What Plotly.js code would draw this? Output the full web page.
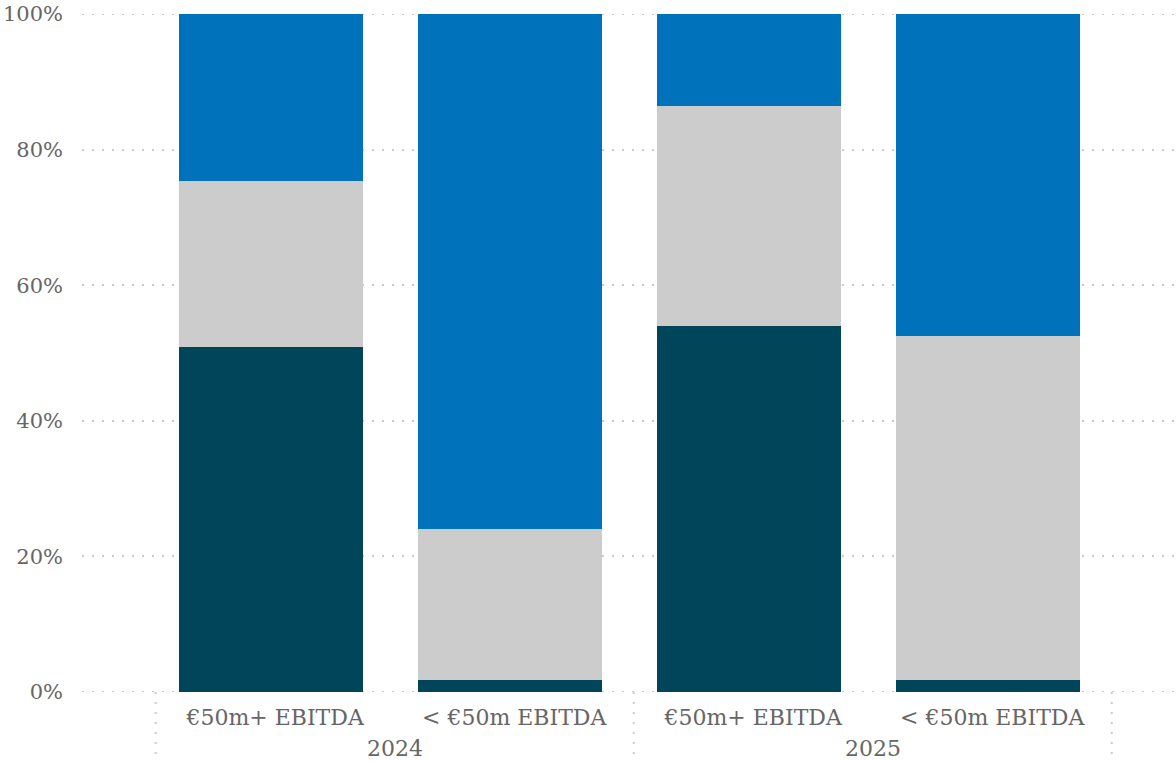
<!DOCTYPE html>
<html>
<head>
<meta charset="utf-8">
<script src="https://cdn.plot.ly/plotly-3.0.1.min.js"></script>
<style>html,body{margin:0;padding:0;background:#fff;}#chart{width:1176px;height:761px;}</style>
</head>
<body>
<div id="chart"></div>
<script>
// Data (share of deals, %)
const years = ['2024', '2024', '2025', '2025'];
const segments = ['€50m+ EBITDA', '< €50m EBITDA', '€50m+ EBITDA', '< €50m EBITDA'];
const darkShare = [50.9, 1.8, 54.0, 1.8];
const greyShare = [24.5, 22.2, 32.4, 50.7];
const blueShare = [24.6, 76.0, 13.6, 47.5];
const yTicks = [0, 20, 40, 60, 80, 100];
const yTickLabels = ['0%', '20%', '40%', '60%', '80%', '100%'];

const FONT = "'DejaVu Serif', Georgia, serif";
const TEXT = '#666666';
const GRID = '#cccccc';

// category positions on the x axis (one per bar)
const pos = segments.map((_, i) => i);
const uniqueYears = years.filter((y, i) => years.indexOf(y) === i);
const yearCenters = uniqueYears.map(yr => {
  const idx = pos.filter(i => years[i] === yr);
  return idx.reduce((a, b) => a + b, 0) / idx.length;
});
// group boundaries: before the first bar, between years, after the last bar
const boundaries = [pos[0] - 0.5];
pos.forEach(i => { if (i > 0 && years[i] !== years[i - 1]) boundaries.push(i - 0.5); });
boundaries.push(pos[pos.length - 1] + 0.5);

const barStyle = {type: 'bar', width: 0.77, offset: -0.402, hoverinfo: 'skip'};
const traces = [
  Object.assign({}, barStyle, {name: 'Series 1', x: pos, y: darkShare, marker: {color: '#01455b'}}),
  Object.assign({}, barStyle, {name: 'Series 2', x: pos, y: greyShare, marker: {color: '#cccccc'}}),
  Object.assign({}, barStyle, {name: 'Series 3', x: pos, y: blueShare, marker: {color: '#0072bc'}})
];

const dotted = {color: GRID, width: 2, dash: '2px,8px'};
const shapes = boundaries.map(b => ({
  type: 'line', xref: 'x', yref: 'paper', x0: b, x1: b, y0: 0, y1: -0.1, line: dotted
}));
// gridlines at the range ends (Plotly drops them at the plot edges)
[yTicks[0], yTicks[yTicks.length - 1]].forEach(v => shapes.push({
  type: 'line', xref: 'paper', yref: 'y', x0: 0, x1: 1, y0: v, y1: v, layer: 'below', line: dotted
}));

const annotations = uniqueYears.map((yr, k) => ({
  text: yr, xref: 'x', yref: 'paper', x: yearCenters[k], y: 0,
  xanchor: 'center', yanchor: 'middle', yshift: -56, showarrow: false,
  font: {family: FONT, size: 22, color: TEXT}
}));

const layout = {
  width: 1176, height: 761,
  margin: {l: 82, r: 0, t: 14, b: 69},
  barmode: 'stack',
  showlegend: false,
  paper_bgcolor: '#ffffff', plot_bgcolor: '#ffffff',
  font: {family: FONT, color: TEXT, size: 21},
  xaxis: {
    type: 'linear',
    range: [-0.808, 3.769],
    tickmode: 'array', tickvals: pos, ticktext: segments,
    showgrid: false, zeroline: false, showline: false, ticks: '',
    ticklabelstandoff: 10,
    tickfont: {family: FONT, size: 22, color: TEXT}
  },
  yaxis: {
    range: [0, 100],
    tickmode: 'array',
    tickvals: yTicks,
    ticktext: yTickLabels,
    showgrid: true, gridcolor: GRID, gridwidth: 2, griddash: '2px,8px',
    zeroline: false, showline: false, ticks: '',
    ticklabelstandoff: 18,
    tickfont: {family: FONT, size: 21, color: TEXT}
  },
  shapes: shapes,
  annotations: annotations
};

Plotly.newPlot('chart', traces, layout, {displayModeBar: false, staticPlot: true});
</script>
</body>
</html>
